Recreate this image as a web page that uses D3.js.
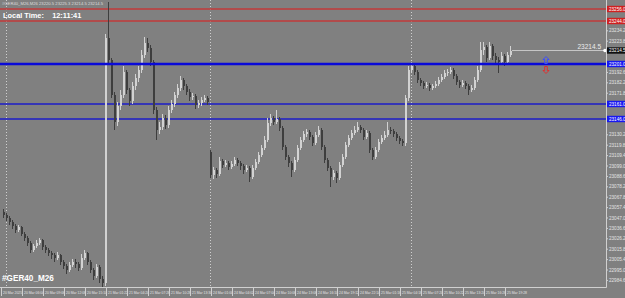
<!DOCTYPE html>
<html>
<head>
<meta charset="utf-8">
<title>GER40 M26</title>
<style>
  body { margin: 0; background: #808080; }
  svg { display: block; font-family: "Liberation Sans", Arial, sans-serif; }
  .candle { shape-rendering: crispEdges; }
  .small { font-size: 4.6px; fill: #e4e4e4; }
  .time { font-size: 3.4px; fill: #e4e4e4; }
</style>
</head>
<body>
<svg width="625" height="298"></svg>
<script src="https://cdn.jsdelivr.net/npm/d3@7"></script>
<script>

// candles, oldest first (one bar = 26 minutes)
var opens = [23053,23050,23047,23043,23039,23035,23038,23031,23027,23022,23015,23019,23022,23025,23018,23015,23012,23010,23007,23010,
  23003,22999,22995,23000,23003,23001,22997,23007,23012,23003,22995,22989,22998,22986,22982,23227,23205,23170,23143,23159,
  23170,23193,23175,23164,23179,23187,23195,23210,23222,23217,23203,23155,23135,23138,23147,23140,23155,23161,23170,23177,
  23185,23179,23173,23168,23169,23160,23162,23165,23167,23113,23090,23095,23091,23104,23100,23102,23098,23101,23105,23102,
  23099,23095,23097,23088,23097,23103,23110,23117,23125,23142,23147,23143,23146,23137,23118,23108,23102,23095,23105,23117,
  23125,23131,23133,23128,23122,23130,23135,23118,23105,23097,23088,23092,23087,23100,23108,23120,23127,23132,23135,23138,
  23135,23128,23132,23115,23108,23115,23123,23127,23130,23135,23134,23131,23127,23124,23122,23167,23195,23199,23193,23185,
  23182,23179,23180,23177,23179,23181,23185,23188,23192,23193,23195,23189,23183,23180,23182,23179,23175,23177,23185,23195,
  23215,23218,23207,23219,23209,23205,23203,23209,23203,23210];
var highs = [23056,23052,23049,23045,23041,23040,23039,23033,23029,23024,23021,23025,23027,23026,23020,23017,23014,23012,23013,23011,
  23005,23001,23003,23006,23006,23003,23011,23015,23013,23005,22997,23001,23000,22989,23231,23263,23207,23173,23163,23175,
  23199,23195,23177,23183,23191,23199,23215,23228,23227,23220,23205,23158,23143,23151,23150,23159,23165,23173,23181,23189,
  23187,23181,23176,23172,23171,23165,23168,23170,23169,23115,23098,23097,23108,23106,23105,23104,23104,23108,23107,23104,
  23101,23100,23099,23100,23106,23113,23120,23129,23147,23151,23149,23155,23148,23139,23120,23110,23104,23108,23120,23128,
  23134,23136,23135,23130,23133,23139,23137,23120,23107,23099,23095,23094,23103,23111,23123,23130,23135,23139,23143,23140,
  23137,23135,23134,23117,23118,23126,23130,23134,23143,23138,23136,23133,23129,23126,23170,23199,23203,23201,23195,23187,
  23184,23183,23182,23181,23184,23188,23191,23195,23196,23198,23197,23191,23185,23185,23184,23181,23180,23188,23199,23223,
  23223,23220,23223,23221,23212,23208,23213,23211,23213,23219];
var lows = [23047,23044,23040,23036,23032,23033,23029,23024,23019,23012,23013,23017,23020,23015,23012,23009,23006,23003,23005,23000,
  22996,22991,22993,22998,22997,22994,22995,23005,23000,22992,22985,22987,22982,22978,22979,23201,23167,23135,23139,23155,
  23167,23171,23159,23161,23175,23183,23192,23207,23213,23199,23151,23125,23131,23135,23136,23137,23152,23158,23167,23174,
  23175,23170,23164,23165,23156,23157,23159,23163,23160,23087,23086,23087,23089,23097,23098,23095,23096,23099,23099,23095,
  23091,23093,23083,23086,23095,23101,23108,23115,23123,23139,23140,23141,23134,23115,23105,23098,23088,23093,23103,23115,
  23123,23128,23125,23119,23120,23128,23115,23102,23094,23078,23085,23082,23085,23098,23106,23118,23125,23130,23133,23132,
  23125,23126,23112,23105,23106,23113,23121,23125,23128,23131,23128,23124,23121,23119,23119,23164,23192,23190,23182,23179,
  23176,23177,23174,23175,23177,23179,23183,23186,23189,23191,23186,23180,23177,23178,23176,23170,23173,23175,23183,23193,
  23210,23203,23205,23205,23201,23192,23200,23199,23201,23208];
var closes = [23050,23047,23043,23039,23035,23038,23031,23027,23022,23015,23019,23022,23025,23018,23015,23012,23010,23007,23010,23003,
  22999,22995,23000,23003,23001,22997,23007,23012,23003,22995,22989,22998,22986,22982,23227,23205,23170,23143,23159,23170,
  23193,23175,23164,23179,23187,23195,23210,23222,23217,23203,23155,23135,23138,23147,23140,23155,23161,23170,23177,23185,
  23179,23173,23168,23169,23160,23162,23165,23167,23163,23090,23095,23091,23104,23100,23102,23098,23101,23105,23102,23099,
  23095,23097,23088,23097,23103,23110,23117,23125,23142,23147,23143,23146,23137,23118,23108,23102,23095,23105,23117,23125,
  23131,23133,23128,23122,23130,23135,23118,23105,23097,23088,23092,23087,23100,23108,23120,23127,23132,23135,23138,23135,
  23128,23132,23115,23108,23115,23123,23127,23130,23135,23134,23131,23127,23124,23122,23167,23195,23199,23193,23185,23182,
  23179,23180,23177,23179,23181,23185,23188,23192,23193,23195,23189,23183,23180,23182,23179,23175,23177,23185,23195,23215,
  23218,23207,23219,23209,23205,23203,23209,23203,23210,23214.5];

var bid = 23214.5;
var redLevels = [23256, 23244];
var blueMain = 23201;
var blueLevels = [23161, 23146];
var separators = [1, 69, 136];   // bar index of the dotted period lines
var signals = [{bar: 181, price: 23205, dir: "up"}, {bar: 181, price: 23195, dir: "down"}];

var priceTicks = [23255.0,23244.6,23234.2,23223.8,23213.4,23203.0,23192.6,23182.2,23171.8,23161.4,23151.0,23140.6,23130.2,
  23119.8,23109.4,23099.0,23088.6,23078.2,23067.8,23057.4,23047.0,23036.6,23026.2,23015.8,23005.4,22995.0,22984.6];
var timeLabels = ["20 Mar 2025","20 Mar 06:04","20 Mar 09:06","20 Mar 12:08","20 Mar 15:10","21 Mar 01:22","21 Mar 04:24",
  "21 Mar 07:26","21 Mar 10:28","21 Mar 13:30","24 Mar 01:00","24 Mar 04:02","24 Mar 07:04","24 Mar 10:06","24 Mar 13:08",
  "24 Mar 16:10","24 Mar 19:12","24 Mar 22:14","25 Mar 01:16","25 Mar 04:18","25 Mar 07:20","25 Mar 10:22","25 Mar 13:24",
  "25 Mar 16:26","25 Mar 19:28"];
var barsPerLabel = 7;

var svg = d3.select("svg");
var plotRight = 606, plotBottom = 287;

var x = d3.scaleLinear().domain([0, 169]).range([3, 510]);
var y = d3.scaleLinear().domain([23265, 22978]).range([0, plotBottom]);

var bars = closes.map(function(c, i) {
  return {i: i, o: opens[i], h: highs[i], l: lows[i], c: c};
});

// period separators
svg.append("g").selectAll("line")
  .data(separators)
  .enter().append("line")
  .attr("x1", function(d) { return Math.round(x(d)) + 0.5; })
  .attr("x2", function(d) { return Math.round(x(d)) + 0.5; })
  .attr("y1", 0).attr("y2", plotBottom)
  .attr("stroke", "#cfcfcf")
  .attr("stroke-dasharray", "1,2");

// level lines
var lv = svg.append("g");
lv.selectAll(".red").data(redLevels).enter().append("line")
  .attr("x1", 0).attr("x2", plotRight)
  .attr("y1", function(d) { return y(d); }).attr("y2", function(d) { return y(d); })
  .attr("stroke", "#c23a3a").attr("stroke-width", 1.3);
lv.selectAll(".blue").data(blueLevels).enter().append("line")
  .attr("x1", 0).attr("x2", plotRight)
  .attr("y1", function(d) { return y(d); }).attr("y2", function(d) { return y(d); })
  .attr("stroke", "#1c1cc8").attr("stroke-width", 1.3);

// candles
var cg = svg.append("g").attr("class", "candle");
var candle = cg.selectAll("g").data(bars).enter().append("g");
candle.append("line")
  .attr("x1", function(d) { return Math.round(x(d.i)) + 0.5; })
  .attr("x2", function(d) { return Math.round(x(d.i)) + 0.5; })
  .attr("y1", function(d) { return y(d.h); })
  .attr("y2", function(d) { return y(d.l); })
  .attr("stroke", function(d) { return d.c >= d.o ? "#d2d2d2" : "#3e3e3e"; });
candle.append("rect")
  .attr("x", function(d) { return Math.round(x(d.i)) - 0.5; })
  .attr("width", 2)
  .attr("y", function(d) { return y(Math.max(d.o, d.c)); })
  .attr("height", function(d) { return Math.max(1, Math.abs(y(d.o) - y(d.c))); })
  .attr("fill", function(d) { return d.c >= d.o ? "#d2d2d2" : "#3e3e3e"; });

// thick blue level drawn over candles
svg.append("line")
  .attr("x1", 0).attr("x2", plotRight)
  .attr("y1", y(blueMain)).attr("y2", y(blueMain))
  .attr("stroke", "#0a0ad8").attr("stroke-width", 2.4);

// bid line
var last = bars[bars.length - 1];
svg.append("line")
  .attr("x1", x(last.i) + 2).attr("x2", plotRight - 1)
  .attr("y1", y(bid)).attr("y2", y(bid))
  .attr("stroke", "#d8d8d8").attr("stroke-width", 0.8);
svg.append("circle")
  .attr("cx", plotRight - 1).attr("cy", y(bid)).attr("r", 1.8)
  .attr("fill", "#ffffff");
svg.append("text")
  .attr("x", plotRight - 5).attr("y", y(bid) - 2)
  .attr("text-anchor", "end")
  .attr("font-size", "6.5px").attr("fill", "#ececec")
  .text(d3.format(".1f")(bid));

// signal arrows
var arrowUp = "M0,-3.5 L3,-0.5 L1.3,-0.5 L1.3,3.5 L-1.3,3.5 L-1.3,-0.5 L-3,-0.5 Z";
var arrowDown = "M0,3.5 L3,0.5 L1.3,0.5 L1.3,-3.5 L-1.3,-3.5 L-1.3,0.5 L-3,0.5 Z";
svg.append("g").selectAll("path")
  .data(signals)
  .enter().append("path")
  .attr("d", function(d) { return d.dir == "up" ? arrowUp : arrowDown; })
  .attr("transform", function(d) { return "translate(" + x(d.bar) + "," + y(d.price) + ")"; })
  .attr("fill", "none")
  .attr("stroke", function(d) { return d.dir == "up" ? "#3a4cff" : "#e03030"; })
  .attr("stroke-width", 1);

// axes frame
svg.append("line").attr("x1", plotRight + 0.5).attr("x2", plotRight + 0.5)
  .attr("y1", 0).attr("y2", plotBottom + 0.5).attr("stroke", "#d0d0d0");
svg.append("line").attr("x1", 0).attr("x2", plotRight + 0.5)
  .attr("y1", plotBottom + 0.5).attr("y2", plotBottom + 0.5).attr("stroke", "#d0d0d0");

// level tags on the price axis
var tags = [];
redLevels.forEach(function(v) { tags.push({v: v, bg: "#d02020", fg: "#ffffff"}); });
tags.push({v: blueMain, bg: "#1818f0", fg: "#ffffff"});
blueLevels.forEach(function(v) { tags.push({v: v, bg: "#1818f0", fg: "#ffffff"}); });
tags.push({v: bid, bg: "#101010", fg: "#ffffff"});

// price axis: a tag hides the tick label under it
var freeTicks = priceTicks.filter(function(p) {
  return tags.every(function(t) { return Math.abs(y(t.v) - y(p)) > 6; });
});
var pa = svg.append("g").selectAll("g").data(freeTicks).enter().append("g")
  .attr("transform", function(d) { return "translate(" + plotRight + "," + y(d) + ")"; });
pa.append("line").attr("x1", 0).attr("x2", 2).attr("stroke", "#d0d0d0");
pa.append("text").attr("class", "small").attr("x", 3).attr("dy", "0.35em")
  .text(function(d) { return d3.format(".1f")(d); });

var tg = svg.append("g").selectAll("g").data(tags).enter().append("g")
  .attr("transform", function(d) { return "translate(" + (plotRight + 1) + "," + y(d.v) + ")"; });
tg.append("rect").attr("x", 0).attr("y", -3.2).attr("width", 18).attr("height", 6.4)
  .attr("fill", function(d) { return d.bg; });
tg.append("text").attr("x", 2).attr("dy", "0.35em")
  .attr("font-size", "4.6px").attr("fill", function(d) { return d.fg; })
  .text(function(d) { return d3.format(".1f")(d.v); });

// time axis
var ta = svg.append("g").selectAll("g").data(timeLabels).enter().append("g")
  .attr("transform", function(d, k) { return "translate(" + (Math.round(x(k * barsPerLabel)) - 1.5) + "," + plotBottom + ")"; });
ta.append("line").attr("y1", 1).attr("y2", 9).attr("stroke", "#d0d0d0");
ta.append("text").attr("class", "time").attr("x", 1.5).attr("y", 7)
  .text(function(d) { return d; });

// header texts
svg.append("text").attr("x", 2).attr("y", 5)
  .attr("font-size", "4.2px").attr("fill", "#dcdcdc")
  .text("#GER40_M26,M26  23220.5 23225.3 23214.5 23214.5");
svg.append("text").attr("x", 3).attr("y", 18)
  .attr("font-size", "7.4px").attr("font-weight", "bold").attr("fill", "#ffffff")
  .attr("xml:space", "preserve")
  .text("Local Time:    12:11:41");
svg.append("text").attr("x", 2).attr("y", 281)
  .attr("font-size", "8.2px").attr("font-weight", "bold").attr("fill", "#ffffff")
  .text("#GER40_M26");

</script>
</body>
</html>
